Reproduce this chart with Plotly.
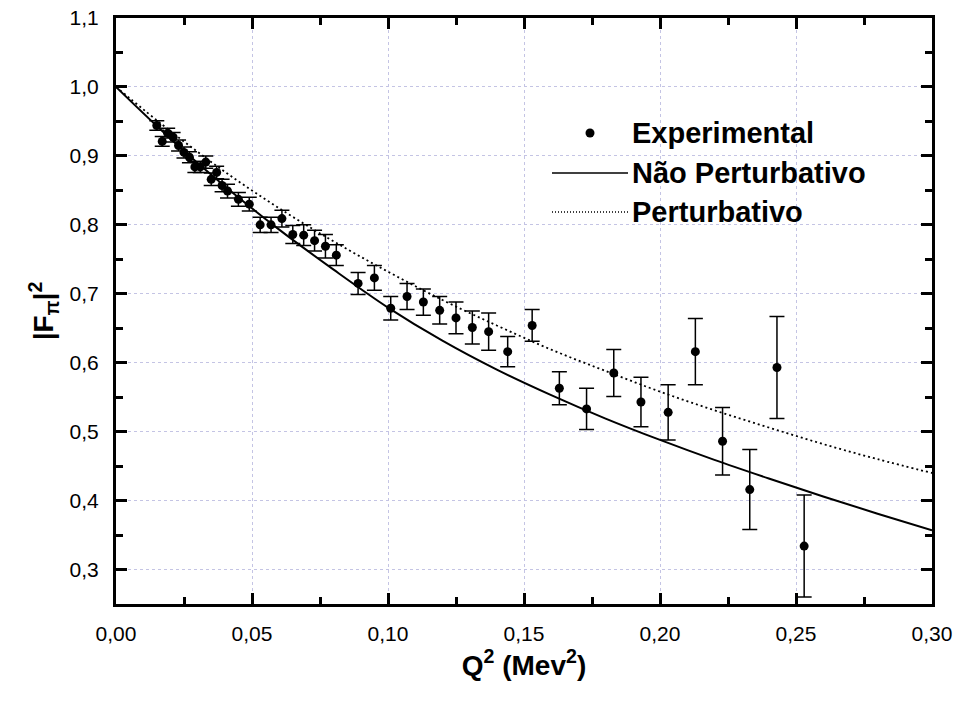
import plotly.graph_objects as go

q2 = [0.015, 0.017, 0.019, 0.021, 0.023, 0.025, 0.027, 0.029, 0.031, 0.033,
      0.035, 0.037, 0.039, 0.041, 0.045, 0.049, 0.053, 0.057, 0.061, 0.065,
      0.069, 0.073, 0.077, 0.081, 0.089, 0.095, 0.101, 0.107, 0.113, 0.119,
      0.125, 0.131, 0.137, 0.144, 0.153, 0.163, 0.173, 0.183, 0.193, 0.203,
      0.213, 0.223, 0.233, 0.243, 0.253]
f2 = [0.944, 0.921, 0.933, 0.927, 0.915, 0.905, 0.898, 0.884, 0.884, 0.891,
      0.866, 0.876, 0.857, 0.849, 0.837, 0.830, 0.800, 0.800, 0.809, 0.786,
      0.785, 0.777, 0.769, 0.756, 0.715, 0.723, 0.679, 0.696, 0.688, 0.676,
      0.665, 0.651, 0.645, 0.616, 0.654, 0.563, 0.533, 0.585, 0.543, 0.528,
      0.616, 0.486, 0.416, 0.593, 0.334]
f2_err = [0.007, 0.007, 0.007, 0.007, 0.008, 0.008, 0.008, 0.008, 0.008, 0.009,
          0.009, 0.009, 0.009, 0.010, 0.010, 0.010, 0.011, 0.011, 0.012, 0.013,
          0.015, 0.015, 0.017, 0.015, 0.016, 0.018, 0.017, 0.019, 0.019, 0.020,
          0.023, 0.024, 0.027, 0.022, 0.023, 0.024, 0.030, 0.034, 0.036, 0.040,
          0.048, 0.049, 0.058, 0.074, 0.074]

# Model curves
curve_x = [0.00, 0.02, 0.04, 0.06, 0.08, 0.10, 0.12, 0.14, 0.16, 0.18,
           0.20, 0.22, 0.24, 0.26, 0.28, 0.30]
nao_perturbativo = [1.000, 0.925, 0.856, 0.793, 0.735, 0.680, 0.632, 0.590,
                    0.553, 0.519, 0.488, 0.459, 0.432, 0.406, 0.381, 0.357]
perturbativo = [1.000, 0.936, 0.877, 0.824, 0.776, 0.732, 0.691, 0.654,
                0.619, 0.588, 0.558, 0.531, 0.506, 0.482, 0.460, 0.440]

legend_labels = ["Experimental", "Não Perturbativo", "Perturbativo"]

FONT = "Liberation Sans, Arial, sans-serif"

# Body margin is removed by a post script, so the figure fills the window.
W, H = 957, 706
L, R, T, B = 116, 932, 18, 604

fig = go.Figure()
fig.add_trace(go.Scatter(
    x=curve_x, y=nao_perturbativo, mode="lines", line_shape="spline",
    line=dict(color="black", width=2), name=legend_labels[1], showlegend=False))
fig.add_trace(go.Scatter(
    x=curve_x, y=perturbativo, mode="lines", line_shape="spline",
    line=dict(color="black", width=1.8, dash="2px,3px"), name=legend_labels[2],
    showlegend=False))
fig.add_trace(go.Scatter(
    x=q2, y=f2, mode="markers", name=legend_labels[0], showlegend=False,
    marker=dict(color="black", size=9, symbol="circle"),
    error_y=dict(type="data", array=f2_err, visible=True, color="black",
                 thickness=1.5, width=7.5)))

# Manual legend (reference pixel positions converted to paper coordinates)
def px_to_paper_x(px):
    return (px - L) / float(R - L)

def px_to_paper_y(py):
    return (B - py) / float(B - T)

rows_y = [133, 173, 212]
shapes = [
    dict(type="circle", xref="paper", yref="paper", xsizemode="pixel",
         ysizemode="pixel", xanchor=px_to_paper_x(590), yanchor=px_to_paper_y(rows_y[0]),
         x0=-4.5, x1=4.5, y0=-4.5, y1=4.5, fillcolor="black", line=dict(color="black", width=0)),
    dict(type="line", xref="paper", yref="paper", x0=px_to_paper_x(552), x1=px_to_paper_x(628),
         y0=px_to_paper_y(rows_y[1]), y1=px_to_paper_y(rows_y[1]),
         line=dict(color="black", width=1.5)),
    dict(type="line", xref="paper", yref="paper", x0=px_to_paper_x(552), x1=px_to_paper_x(628),
         y0=px_to_paper_y(rows_y[2]), y1=px_to_paper_y(rows_y[2]),
         line=dict(color="black", width=1.4, dash="1px,2px")),
]
annotations = []
for lbl, ry in zip(legend_labels, rows_y):
    annotations.append(dict(
        xref="paper", yref="paper", x=px_to_paper_x(630), y=px_to_paper_y(ry),
        text="<b>%s</b>" % lbl, showarrow=False, xanchor="left", yanchor="middle",
        font=dict(family=FONT, size=29, color="black")))

axis_common = dict(
    showline=True, linecolor="black", linewidth=3, mirror="allticks",
    ticks="inside", ticklen=11, tickwidth=3, tickcolor="black",
    showgrid=True, gridcolor="#c4c4e4", gridwidth=1, griddash="dot",
    zeroline=False, automargin=False, ticklabeloverflow="allow",
    tickfont=dict(family=FONT, size=21, color="black"),
)

fig.update_layout(
    width=W, height=H,
    margin=dict(l=L, r=W - R, t=T, b=H - B),
    plot_bgcolor="white", paper_bgcolor="white",
    separators=",.",
    shapes=shapes, annotations=annotations,
    xaxis=dict(range=[0, 0.30], dtick=0.05, tickformat=".2f",
               minor=dict(dtick=0.025, ticks="inside", ticklen=7, tickwidth=2.5,
                          tickcolor="black", showgrid=False),
               ticklabelstandoff=9,
               title=dict(text="<b>Q<sup>2</sup> (Mev<sup>2</sup>)</b>",
                          font=dict(family=FONT, size=28, color="black"), standoff=0),
               **axis_common),
    yaxis=dict(range=[0.25, 1.1], dtick=0.1, tick0=0.3, tickformat=".1f",
               minor=dict(dtick=0.05, ticks="inside", ticklen=7, tickwidth=2.5,
                          tickcolor="black", showgrid=False),
               ticklabelstandoff=10,
               title=dict(text="<b>|F<sub>π</sub>|<sup>2</sup></b>",
                          font=dict(family=FONT, size=28, color="black"), standoff=8),
               **axis_common),
)

fig.write_html(
    "out.html",
    config={"displayModeBar": False},
    post_script="document.body.style.margin='0';document.body.style.overflow='hidden';",
)
